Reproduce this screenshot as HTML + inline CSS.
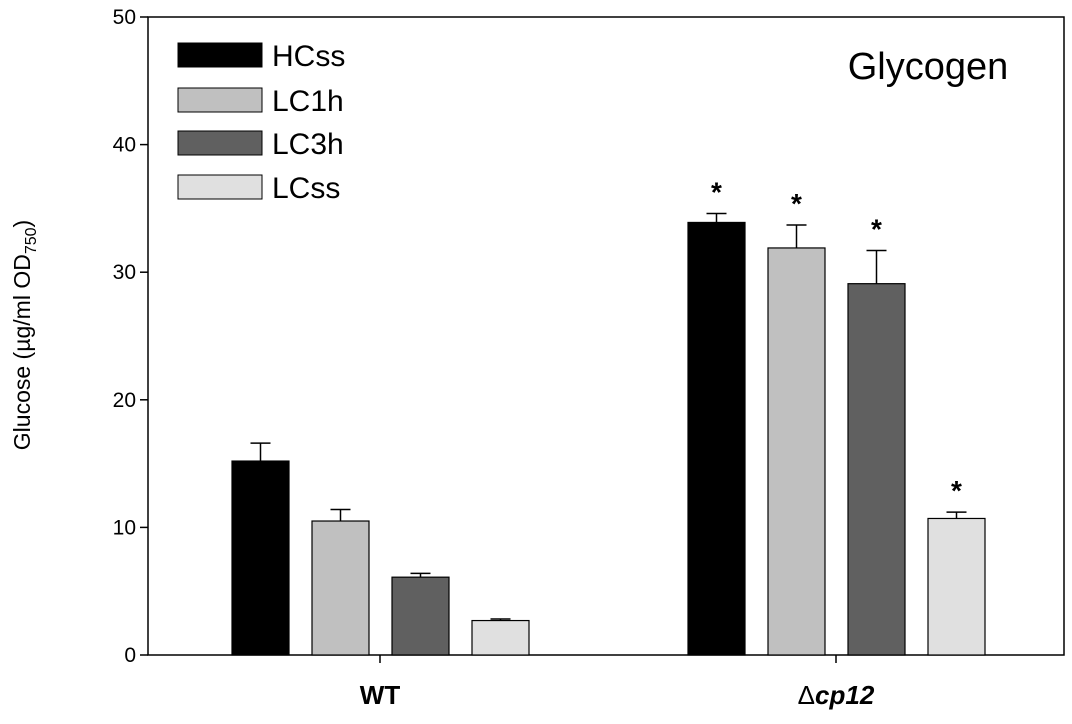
<!DOCTYPE html>
<html><head><meta charset="utf-8"><style>
body{margin:0;background:#fff;}
svg text{font-family:"Liberation Sans",Arial,sans-serif;}
</style></head><body>
<svg id="chart" width="1072" height="719" xmlns="http://www.w3.org/2000/svg">
<g id="marks"></g>
</svg>
<script>
const groups = ["WT", "Δcp12"];
const seriesNames = ["HCss", "LC1h", "LC3h", "LCss"];
const valuesWT = [15.2, 10.5, 6.1, 2.7];
const errWT = [1.4, 0.9, 0.3, 0.12];
const valuesCP = [33.9, 31.9, 29.1, 10.7];
const errCP = [0.7, 1.8, 2.6, 0.5];
const sigCP = [true, true, true, true];
const yTicks = [0, 10, 20, 30, 40, 50];
const colors = ["#000000", "#c0c0c0", "#606060", "#e0e0e0"];

const NS = "http://www.w3.org/2000/svg";
const g = document.getElementById("marks");
const X0 = 148, X1 = 1064, Y0 = 655, Y1 = 17, yMax = 50;
const yS = v => Y0 - (Y0 - Y1) * v / yMax;
const groupCenter = [380, 836];
const barW = 57, step = 80;
const barX = (gi, si) => groupCenter[gi] - 2 * step + 12 + si * step;

function el(tag, attrs, parent) {
  const e = document.createElementNS(NS, tag);
  for (const k in attrs) e.setAttribute(k, attrs[k]);
  (parent || g).appendChild(e);
  return e;
}

const frame = el("rect", {x: X0, y: Y1, width: X1 - X0, height: Y0 - Y1, fill: "none", stroke: "#000", "stroke-width": 1.5});



yTicks.forEach(t => {
  const y = yS(t);
  const tk = el("line", {x1: X0 - 8, x2: X0, y1: y, y2: y, stroke: "#000", "stroke-width": 1.5});
  
  
  const lb = el("text", {x: X0 - 12, y: y + 7, "text-anchor": "end", "font-size": 21});
  lb.textContent = t;
  
  
});

groups.forEach((name, gi) => {
  const cx = groupCenter[gi];
  const tk = el("line", {x1: cx, x2: cx, y1: Y0, y2: Y0 + 8, stroke: "#000", "stroke-width": 1.5});
  
  
  const lb = el("text", {x: cx, y: 704, "text-anchor": "middle", "font-size": 26, "font-weight": "bold"});
  if (gi === 1) {
    const t1 = document.createElementNS(NS, "tspan"); t1.textContent = "Δ"; t1.setAttribute("font-weight", "normal");
    const t2 = document.createElementNS(NS, "tspan"); t2.textContent = "cp12"; t2.setAttribute("font-style", "italic");
    lb.appendChild(t1); lb.appendChild(t2);
  } else lb.textContent = name;
  
  
});

[[valuesWT, errWT, null], [valuesCP, errCP, sigCP]].forEach(([vals, errs, sig], gi) => {
  vals.forEach((v, si) => {
    const x = barX(gi, si);
    const top = yS(v), etop = yS(v + errs[si]), cx = x + barW / 2;
    const eb = el("line", {x1: cx, x2: cx, y1: top, y2: etop, stroke: "#000", "stroke-width": 1.5});
    
    
    const cap = el("line", {x1: cx - 10, x2: cx + 10, y1: etop, y2: etop, stroke: "#000", "stroke-width": 1.5});
    
    
    const r = el("rect", {x: x, y: top, width: barW, height: Y0 - top, fill: colors[si], stroke: "#000", "stroke-width": 1.2});
    
    
    if (sig && sig[si]) {
      const s = el("text", {x: cx, y: etop - 12, "text-anchor": "middle", "font-size": 28, "font-weight": "bold"});
      s.textContent = "*";
      
      
    }
  });
});

const legY = [43, 88, 131, 175];
seriesNames.forEach((n, i) => {
  const r = el("rect", {x: 178, y: legY[i], width: 84, height: 24, fill: colors[i], stroke: "#000", "stroke-width": 1});
  
  
  const t = el("text", {x: 272, y: legY[i] + 23, "font-size": 30});
  t.textContent = n;
  
  
});

const title = el("text", {x: 928, y: 79, "text-anchor": "middle", "font-size": 38});
title.textContent = "Glycogen";



const yt = el("text", {x: 0, y: 0, "text-anchor": "middle", "font-size": 23, transform: "translate(30,335) rotate(-90)"});
yt.innerHTML = 'Glucose (µg/ml OD<tspan font-size="16" dy="6">750</tspan><tspan dy="-6">)</tspan>';


</script>
</body></html>
